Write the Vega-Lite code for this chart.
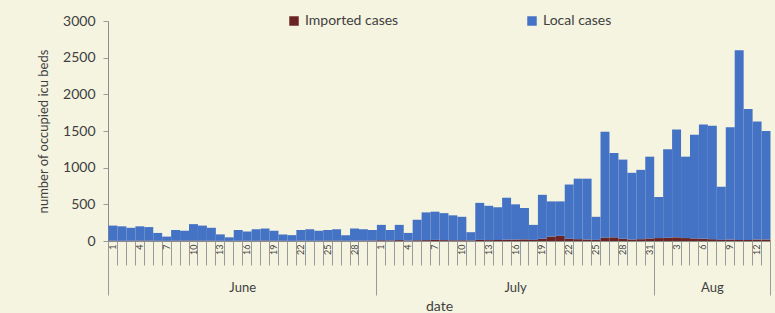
{
  "$schema": "https://vega.github.io/schema/vega-lite/v6.json",
  "width": 662,
  "height": 220,
  "autosize": {"type": "none"},
  "padding": {"left": 108, "top": 21, "right": 5, "bottom": 72},
  "background": "#f5f4e1",
  "config": {
    "view": {"stroke": null},
    "font": "Lato",
    "axis": {"labelColor": "#404040", "titleColor": "#404040", "domainColor": "#8c8c8c", "tickColor": "#9a9a9a", "titleFontWeight": "normal", "grid": false}
  },
  "data": {"values": [
    {"date": "2021-06-01", "Imported cases": 5, "Local cases": 205},
    {"date": "2021-06-02", "Imported cases": 3, "Local cases": 197},
    {"date": "2021-06-03", "Imported cases": 4, "Local cases": 176},
    {"date": "2021-06-04", "Imported cases": 6, "Local cases": 194},
    {"date": "2021-06-05", "Imported cases": 5, "Local cases": 185},
    {"date": "2021-06-06", "Imported cases": 3, "Local cases": 107},
    {"date": "2021-06-07", "Imported cases": 2, "Local cases": 58},
    {"date": "2021-06-08", "Imported cases": 4, "Local cases": 146},
    {"date": "2021-06-09", "Imported cases": 5, "Local cases": 135},
    {"date": "2021-06-10", "Imported cases": 6, "Local cases": 224},
    {"date": "2021-06-11", "Imported cases": 4, "Local cases": 206},
    {"date": "2021-06-12", "Imported cases": 5, "Local cases": 175},
    {"date": "2021-06-13", "Imported cases": 3, "Local cases": 87},
    {"date": "2021-06-14", "Imported cases": 2, "Local cases": 48},
    {"date": "2021-06-15", "Imported cases": 4, "Local cases": 146},
    {"date": "2021-06-16", "Imported cases": 5, "Local cases": 125},
    {"date": "2021-06-17", "Imported cases": 3, "Local cases": 157},
    {"date": "2021-06-18", "Imported cases": 6, "Local cases": 164},
    {"date": "2021-06-19", "Imported cases": 4, "Local cases": 136},
    {"date": "2021-06-20", "Imported cases": 3, "Local cases": 87},
    {"date": "2021-06-21", "Imported cases": 2, "Local cases": 78},
    {"date": "2021-06-22", "Imported cases": 5, "Local cases": 145},
    {"date": "2021-06-23", "Imported cases": 4, "Local cases": 156},
    {"date": "2021-06-24", "Imported cases": 3, "Local cases": 137},
    {"date": "2021-06-25", "Imported cases": 6, "Local cases": 144},
    {"date": "2021-06-26", "Imported cases": 5, "Local cases": 155},
    {"date": "2021-06-27", "Imported cases": 3, "Local cases": 77},
    {"date": "2021-06-28", "Imported cases": 4, "Local cases": 166},
    {"date": "2021-06-29", "Imported cases": 5, "Local cases": 155},
    {"date": "2021-06-30", "Imported cases": 6, "Local cases": 144},
    {"date": "2021-07-01", "Imported cases": 10, "Local cases": 210},
    {"date": "2021-07-02", "Imported cases": 8, "Local cases": 142},
    {"date": "2021-07-03", "Imported cases": 12, "Local cases": 208},
    {"date": "2021-07-04", "Imported cases": 6, "Local cases": 104},
    {"date": "2021-07-05", "Imported cases": 10, "Local cases": 280},
    {"date": "2021-07-06", "Imported cases": 12, "Local cases": 378},
    {"date": "2021-07-07", "Imported cases": 15, "Local cases": 385},
    {"date": "2021-07-08", "Imported cases": 12, "Local cases": 368},
    {"date": "2021-07-09", "Imported cases": 10, "Local cases": 340},
    {"date": "2021-07-10", "Imported cases": 10, "Local cases": 320},
    {"date": "2021-07-11", "Imported cases": 8, "Local cases": 112},
    {"date": "2021-07-12", "Imported cases": 15, "Local cases": 505},
    {"date": "2021-07-13", "Imported cases": 12, "Local cases": 468},
    {"date": "2021-07-14", "Imported cases": 14, "Local cases": 446},
    {"date": "2021-07-15", "Imported cases": 18, "Local cases": 572},
    {"date": "2021-07-16", "Imported cases": 20, "Local cases": 480},
    {"date": "2021-07-17", "Imported cases": 22, "Local cases": 428},
    {"date": "2021-07-18", "Imported cases": 15, "Local cases": 205},
    {"date": "2021-07-19", "Imported cases": 30, "Local cases": 600},
    {"date": "2021-07-20", "Imported cases": 60, "Local cases": 480},
    {"date": "2021-07-21", "Imported cases": 70, "Local cases": 470},
    {"date": "2021-07-22", "Imported cases": 30, "Local cases": 740},
    {"date": "2021-07-23", "Imported cases": 25, "Local cases": 825},
    {"date": "2021-07-24", "Imported cases": 20, "Local cases": 830},
    {"date": "2021-07-25", "Imported cases": 15, "Local cases": 315},
    {"date": "2021-07-26", "Imported cases": 45, "Local cases": 1445},
    {"date": "2021-07-27", "Imported cases": 50, "Local cases": 1150},
    {"date": "2021-07-28", "Imported cases": 30, "Local cases": 1080},
    {"date": "2021-07-29", "Imported cases": 20, "Local cases": 910},
    {"date": "2021-07-30", "Imported cases": 25, "Local cases": 945},
    {"date": "2021-07-31", "Imported cases": 35, "Local cases": 1115},
    {"date": "2021-08-01", "Imported cases": 40, "Local cases": 560},
    {"date": "2021-08-02", "Imported cases": 45, "Local cases": 1205},
    {"date": "2021-08-03", "Imported cases": 50, "Local cases": 1470},
    {"date": "2021-08-04", "Imported cases": 40, "Local cases": 1110},
    {"date": "2021-08-05", "Imported cases": 35, "Local cases": 1415},
    {"date": "2021-08-06", "Imported cases": 30, "Local cases": 1560},
    {"date": "2021-08-07", "Imported cases": 25, "Local cases": 1545},
    {"date": "2021-08-08", "Imported cases": 15, "Local cases": 725},
    {"date": "2021-08-09", "Imported cases": 20, "Local cases": 1530},
    {"date": "2021-08-10", "Imported cases": 15, "Local cases": 2585},
    {"date": "2021-08-11", "Imported cases": 15, "Local cases": 1785},
    {"date": "2021-08-12", "Imported cases": 20, "Local cases": 1610},
    {"date": "2021-08-13", "Imported cases": 20, "Local cases": 1480}
  ]},
  "transform": [{"fold": ["Imported cases", "Local cases"], "as": ["type", "value"]}],
  "layer": [
    {
      "mark": {"type": "bar", "binSpacing": 0},
      "encoding": {
        "x": {
          "field": "date", "timeUnit": "utcyearmonthdate", "type": "temporal",
          "scale": {"type": "utc", "nice": false, "domain": [{"year": 2021, "month": 6, "date": 1, "utc": true}, {"year": 2021, "month": 8, "date": 14, "utc": true}]},
          "axis": {
            "orient": "bottom", "title": "date", "titleFontSize": 14, "titleY": 58, "titleBaseline": "top",
            "tickCount": {"interval": "day", "step": 1},
            "labelExpr": "round((datum.value - utc(2021,5,1))/86400000) % 3 == 0 ? '' + utcdate(datum.value) : ''",
            "labelAngle": -90, "labelOffset": 4.5, "labelFontSize": 9, "labelPadding": -21,
            "labelOverlap": false, "labelFlush": false, "labelBound": false,
            "tickSize": 24
          }
        },
        "y": {
          "field": "value", "type": "quantitative", "stack": "zero",
          "scale": {"domain": [0, 3000], "nice": false},
          "axis": {"values": [0, 500, 1000, 1500, 2000, 2500, 3000], "format": "d", "title": "number of occupied icu beds", "titleFontSize": 13, "titlePadding": 12, "labelFontSize": 14, "tickSize": 5, "labelPadding": 8}
        },
        "order": {"field": "type", "sort": "ascending"},
        "color": {
          "field": "type", "type": "nominal",
          "scale": {"domain": ["Imported cases", "Local cases"], "range": ["#6a2424", "#4472c4"]},
          "legend": {"title": null, "orient": "none", "direction": "horizontal", "legendX": 179, "legendY": -7, "labelFontSize": 14, "labelColor": "#404040", "symbolType": "square", "symbolSize": 90, "symbolStrokeWidth": 0, "columnPadding": 126, "labelOffset": 4}
        }
      }
    },
    {
      "mark": {"type": "point", "opacity": 0},
      "encoding": {
        "x": {
          "field": "date", "type": "temporal",
          "scale": {"type": "utc", "nice": false, "domain": [{"year": 2021, "month": 6, "date": 1, "utc": true}, {"year": 2021, "month": 8, "date": 14, "utc": true}]},
          "axis": {
            "orient": "bottom", "title": null, "domain": false, "ticks": false, "tickSize": 0,
            "values": [{"year": 2021, "month": 6, "date": 16, "utc": true}, {"year": 2021, "month": 7, "date": 16, "hours": 12, "utc": true}, {"year": 2021, "month": 8, "date": 7, "hours": 12, "utc": true}],
            "labelExpr": "utcmonth(datum.value) == 5 ? 'June' : utcmonth(datum.value) == 6 ? 'July' : 'Aug'",
            "labelFontSize": 13, "labelPadding": 40, "labelOverlap": false, "labelFlush": false, "labelBound": false
          }
        }
      }
    },
    {
      "mark": {"type": "point", "opacity": 0},
      "encoding": {
        "x": {
          "field": "date", "type": "temporal",
          "scale": {"type": "utc", "nice": false, "domain": [{"year": 2021, "month": 6, "date": 1, "utc": true}, {"year": 2021, "month": 8, "date": 14, "utc": true}]},
          "axis": {
            "orient": "bottom", "title": null, "domain": false, "labels": false, "tickSize": 54,
            "values": [{"year": 2021, "month": 6, "date": 1, "utc": true}, {"year": 2021, "month": 7, "date": 1, "utc": true}, {"year": 2021, "month": 8, "date": 1, "utc": true}, {"year": 2021, "month": 8, "date": 14, "utc": true}]
          }
        }
      }
    }
  ],
  "resolve": {"scale": {"x": "independent"}, "axis": {"x": "independent"}}
}
